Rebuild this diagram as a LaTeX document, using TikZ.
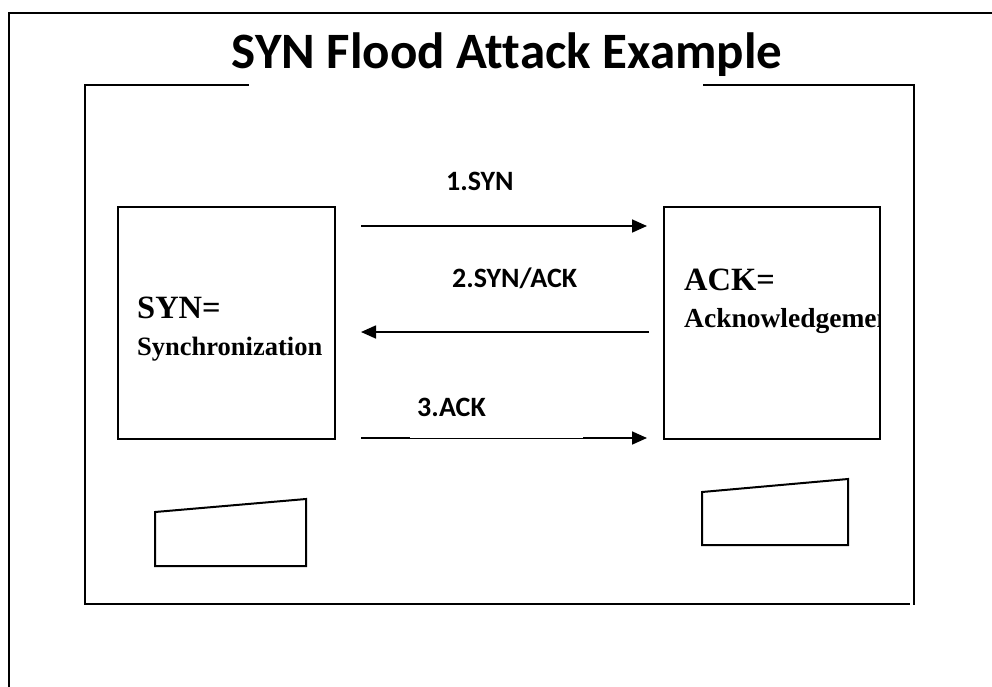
\documentclass[tikz,border=0pt]{standalone}
\usepackage{fontspec}
\setmainfont{Liberation Serif}
\newfontfamily\labelfont[Ligatures={NoCommon}]{Carlito}
\usetikzlibrary{arrows.meta}
\begin{document}
\begin{tikzpicture}[x=1pt,y=-1pt,
  frame/.style={line width=2pt, line cap=rect},
  hostbox/.style={draw, line width=2pt, inner sep=0pt},
  msg/.style={line width=1.7pt, -{Triangle[length=15pt,width=13pt]}},
  lbl/.style={font=\labelfont\bfseries\fontsize{28}{32}\selectfont, inner sep=0pt, anchor=base west},
  big/.style={font=\bfseries\fontsize{32.5}{36}\selectfont, inner sep=0pt, anchor=base west},
  small/.style={font=\bfseries\fontsize{26.5}{30}\selectfont, inner sep=0pt, anchor=base west},
  block/.style={line width=2pt, line join=miter}
]
\useasboundingbox (0,0) rectangle (992,686);

% outer page frame (open to the right and bottom)
\draw[frame] (9,686) -- (9,13) -- (992,13);

% inner frame, interrupted by the title
\draw[frame] (248,85) -- (85,85) -- (85,604) -- (909,604);
\draw[frame] (704,85) -- (914,85) -- (914,604);

% title
\node[font=\labelfont\bfseries\fontsize{51}{60}\selectfont, inner sep=0pt, anchor=base] (title) at (507,68) {SYN Flood Attack Example};

% the two hosts
\node[hostbox, minimum width=217pt, minimum height=232pt] (lbox) at (226.5,323) {};
\node[hostbox, minimum width=216pt, minimum height=232pt] (rbox) at (772,323) {};

\node[big] (synk) at (137,318) {SYN=};
\node[small] (synv) at (137,355) {Synchronization};
\node[big] (ackk) at (684,290) {ACK=};
\begin{scope}
  \clip ([xshift=1pt]rbox.south west) rectangle ([xshift=-1.5pt]rbox.north east);
  \node[small, font=\bfseries\fontsize{27.5}{30}\selectfont] (ackv) at (684,327) {Acknowledgement};
\end{scope}

% handshake messages
\coordinate (y1) at (0,226);
\coordinate (y2) at (0,332);
\coordinate (y3) at (0,438);
\draw[msg, shorten <=25pt, shorten >=16pt] (lbox.east |- y1) -- (rbox.west |- y1);
\draw[msg, shorten <=14pt, shorten >=25pt] (rbox.west |- y2) -- (lbox.east |- y2);
\draw[msg, shorten <=25pt, shorten >=16pt] (lbox.east |- y3) -- (rbox.west |- y3);
\draw[white, line width=2.2pt] (410,438) -- (583,438);
\draw[line width=1pt] (410,438.4) -- (583,438.4);

\node[lbl] (m1) at (446,190) {1.SYN};
\node[lbl] (m2) at (452,287) {2.SYN/ACK};
\node[lbl] (m3) at (417,416) {3.ACK};

% sloped-top blocks below the hosts
\draw[block] (155,512) -- (306,499) -- (306,566) -- (155,566) -- cycle;
\draw[block] (702,492) -- (848,479) -- (848,545) -- (702,545) -- cycle;
\end{tikzpicture}
\end{document}
